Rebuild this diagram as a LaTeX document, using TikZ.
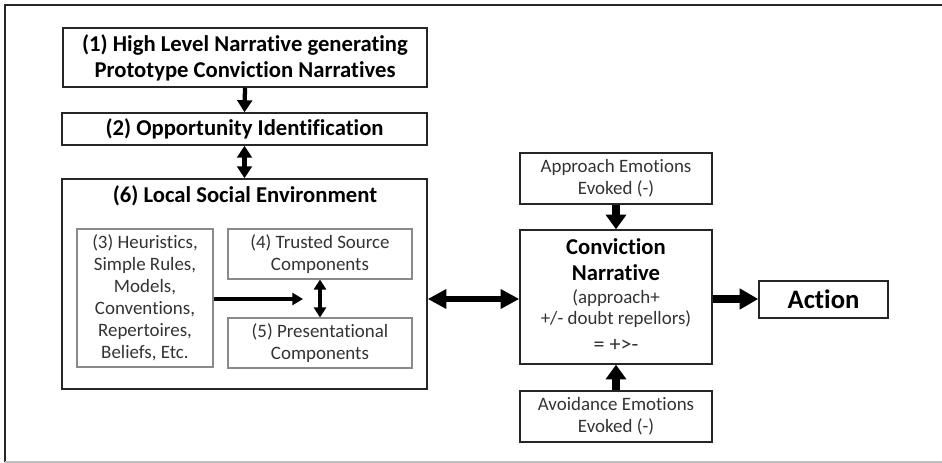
\documentclass[tikz,border=0pt]{standalone}
\usepackage{fontspec}
\setmainfont{Carlito}[Ligatures=NoCommon]
\usetikzlibrary{arrows.meta}
\definecolor{txt}{HTML}{333333}
\definecolor{innerline}{HTML}{8A8A8A}
\begin{document}
\begin{tikzpicture}[x=0.75pt,y=-0.75pt,
  bigbox/.style={draw=black!85,line width=1.1pt,inner sep=0pt,align=center,text=black,font=\fontsize{17}{19.5}\selectfont\bfseries},
  smallbox/.style={draw=innerline,line width=0.8pt,inner sep=0pt,align=center,text=txt,font=\fontsize{14.2}{16.5}\selectfont},
  rbox/.style={draw=black!85,line width=1.1pt,inner sep=0pt,align=center,text=txt,font=\fontsize{14.2}{16.3}\selectfont},
  cline/.style={inner sep=0pt,text=txt,font=\fontsize{14.2}{16.3}\selectfont},
  cbold/.style={inner sep=0pt,text=black,font=\fontsize{17}{19.5}\selectfont\bfseries},
  thinarr/.style={line width=3.2pt,-{Triangle[length=9pt,width=11pt]}},
  thindbl/.style={line width=3.2pt,{Triangle[length=9pt,width=11pt]}-{Triangle[length=9pt,width=11pt]}},
  midarr/.style={line width=2.8pt,-{Triangle[length=8pt,width=9pt]}},
  middbl/.style={line width=2.6pt,{Triangle[length=7.5pt,width=9pt]}-{Triangle[length=7.5pt,width=9pt]}},
  vfat/.style={line width=6pt,-{Triangle[length=11pt,width=15pt]}},
  fatarr/.style={line width=6pt,-{Triangle[length=14pt,width=15pt]}},
  fatdbl/.style={line width=4.5pt,{Triangle[length=14pt,width=14pt]}-{Triangle[length=14pt,width=14pt]}}
]
\useasboundingbox (0,0) rectangle (942,463);
% frame
\draw[black!85,line width=1.4pt] (5,462) -- (5,5) -- (942,5);
\draw[black!25,line width=1.2pt] (5,462) -- (942,462);

% left column
\node[bigbox,minimum width=364*0.75pt,minimum height=59*0.75pt] (n1) at (245,57.5)
  {(1) High Level Narrative generating\\Prototype Conviction Narratives};
\node[bigbox,minimum width=365*0.75pt,minimum height=32*0.75pt] (n2) at (244.5,129)
  {(2) Opportunity Identification};
\node[draw=black!85,line width=1.1pt,inner sep=0pt,minimum width=365*0.75pt,minimum height=210*0.75pt] (n6) at (244.5,284) {};
\node[cbold] (n6t) at (245,196) {(6) Local Social Environment};

\node[smallbox,minimum width=136*0.75pt,minimum height=138*0.75pt] (n3) at (145,298)
  {(3) Heuristics,\\Simple Rules,\\Models,\\Conventions,\\Repertoires,\\Beliefs, Etc.};
\node[smallbox,minimum width=184*0.75pt,minimum height=50*0.75pt] (n4) at (320,254)
  {(4) Trusted Source\\Components};
\node[smallbox,minimum width=184*0.75pt,minimum height=50*0.75pt] (n5) at (320,343)
  {(5) Presentational\\Components};
\coordinate (j) at (303,299);

\draw[thinarr] (n1.south) -- (n2.north);
\draw[thindbl] (n2.south) -- (n6.north);
\draw[midarr] (n3.east |- j) -- (j);
\draw[middbl] (n4.south) -- (n5.north);

% right part
\node[rbox,minimum width=192*0.75pt,minimum height=51*0.75pt] (ap) at (616,178.5)
  {Approach Emotions\\Evoked (-)};
\node[draw=black!85,line width=1.1pt,inner sep=0pt,minimum width=192*0.75pt,minimum height=134*0.75pt] (cn) at (616,297) {};
\node[cbold] (c1) at (616,247) {Conviction};
\node[cbold] (c2) at (616,273) {Narrative};
\node[cline] (c3) at (616,298) {(approach+};
\node[cline] (c4) at (616,319) {+/- doubt repellors)};
\node[cline,font=\fontsize{16.5}{18}\selectfont] (c5) at (616,345) {= +>-};
\node[rbox,minimum width=192*0.75pt,minimum height=51*0.75pt] (av) at (616,416.5)
  {Avoidance Emotions\\Evoked (-)};
\node[bigbox,font=\fontsize{20}{22}\selectfont\bfseries,minimum width=129*0.75pt,minimum height=37*0.75pt] (act) at (823.5,299.5)
  {Action};

\draw[vfat] (ap.south) -- (cn.north);
\draw[vfat] (av.north) -- (cn.south);
\draw[fatdbl] (n6.east |- 0,299) -- (cn.west |- 0,299);
\draw[fatarr] (cn.east |- 0,299) -- (act.west |- 0,299);
\end{tikzpicture}
\end{document}
